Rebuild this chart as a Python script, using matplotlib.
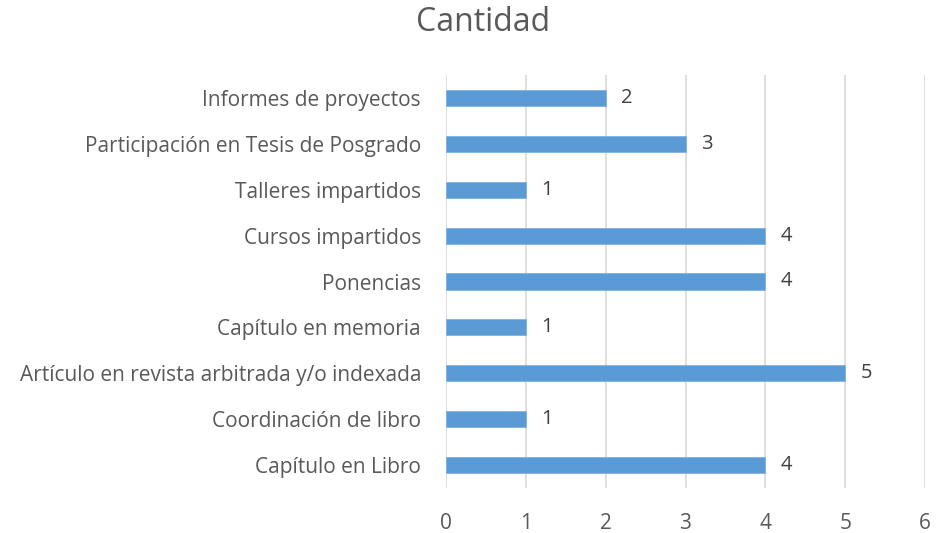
import matplotlib.pyplot as plt

# Datos del grafico (de abajo hacia arriba)
categorias = ["Capítulo en Libro", "Coordinación de libro",
              "Artículo en revista arbitrada y/o indexada", "Capítulo en memoria",
              "Ponencias", "Cursos impartidos", "Talleres impartidos",
              "Participación en Tesis de Posgrado", "Informes de proyectos"]
cantidad = [4, 1, 5, 1, 4, 4, 1, 3, 2]
ticks_x = [0, 1, 2, 3, 4, 5, 6]

plt.rcParams['font.family'] = ['Open Sans', 'DejaVu Sans']
gris = "#595959"

fig = plt.figure(figsize=(9.49, 5.33), dpi=100)
ax = fig.add_axes([446/949, 1-488/533, (925-446)/949, (488-75)/533])

y = range(len(categorias))
ax.barh(y, cantidad, height=0.35, color="#5B9BD5", edgecolor="#7FB2E0", linewidth=0.6, zorder=3)
for i, v in enumerate(cantidad):
    ax.text(v + 0.19, i, str(v), va="center", ha="left", fontsize=14.5, color="#404040")

ax.set_xlim(0, 6)
ax.set_ylim(-0.5, len(categorias) - 0.5)
ax.set_xticks(ticks_x)
ax.set_yticks(list(y))
ax.set_yticklabels(categorias)
ax.grid(axis="x", color="#D9D9D9", linewidth=1.2, zorder=0)
for s in ax.spines.values():
    s.set_visible(False)
ax.tick_params(axis="both", length=0, labelsize=15, labelcolor=gris)
ax.tick_params(axis="y", pad=18)
ax.tick_params(axis="x", pad=18)

fig.text(483/949, 1-22/533, "Cantidad", ha="center", va="center", fontsize=23, color=gris)

fig.savefig("out.png", dpi=100)
